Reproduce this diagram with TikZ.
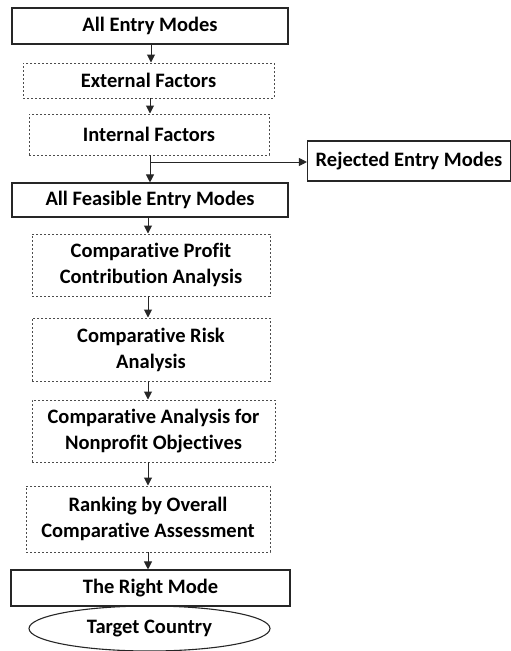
\documentclass[tikz,border=0pt]{standalone}
\usepackage{fontspec}
\setmainfont[Ligatures=NoCommon]{Carlito}
\usetikzlibrary{arrows.meta,shapes.geometric}
\begin{document}
\begin{tikzpicture}[x=1pt,y=-1pt,
  every node/.style={font=\bfseries\fontsize{20.5}{26}\selectfont, text=black, align=center, inner sep=0pt},
  solidbox/.style={draw=black!85, line width=1.1pt, rectangle},
  dashbox/.style={draw=black!70, line width=1pt, dash pattern=on 2.4pt off 1.6pt, rectangle},
  oval/.style={draw=black!85, line width=1.1pt, ellipse, inner sep=0pt},
  arr/.style={draw=black!85, line width=1pt, -{Triangle[length=8pt,width=8pt]}}]
  \useasboundingbox (0,0) rectangle (511,651);
  \clip (0,0) rectangle (511,651);

  % main chain of boxes
  \node[solidbox, minimum width=276, minimum height=36] (all) at (150,26) {All Entry Modes};
  \node[dashbox, minimum width=251, minimum height=35] (ext) at (148.5,80.5) {External Factors};
  \node[dashbox, minimum width=240, minimum height=41] (int) at (149,134.5) {Internal Factors};
  \node[solidbox, minimum width=203, minimum height=40] (rej) at (409,161) {Rejected Entry Modes};
  \node[solidbox, minimum width=276, minimum height=34] (feas) at (150,200) {All Feasible Entry Modes};
  \node[dashbox, minimum width=238, minimum height=62] (profit) at (151,265) {Comparative Profit\\Contribution Analysis};
  \node[dashbox, minimum width=238, minimum height=63] (risk) at (151,349.5) {Comparative Risk\\Analysis};
  \node[dashbox, minimum width=243, minimum height=62] (nonp) at (153.5,431) {Comparative Analysis for\\Nonprofit Objectives};
  \node[dashbox, minimum width=244, minimum height=66] (rank) at (148,519) {Ranking by Overall\\Comparative Assessment};
  \node[solidbox, minimum width=279, minimum height=36] (right) at (150.5,588) {The Right Mode};
  \node[oval, minimum width=241, minimum height=45] (target) at (149.5,628.5) {Target Country};

  % connectors
  \draw[arr] (151,44) -- (ext.north -| 151,0);
  \draw[arr] (150,98) -- (int.north -| 150,0);
  \draw[arr] (150,155) -- (feas.north -| 150,0);
  \coordinate (branch) at (150,162);
  \draw[arr] (branch) -- (rej.west |- branch);
  \draw[arr] (148,217) -- (profit.north -| 148,0);
  \draw[arr] (148,296) -- (risk.north -| 148,0);
  \draw[arr] (148,381) -- (nonp.north -| 148,0);
  \draw[arr] (148,462) -- (rank.north -| 148,0);
  \draw[arr] (148,552) -- (right.north -| 148,0);
\end{tikzpicture}
\end{document}
